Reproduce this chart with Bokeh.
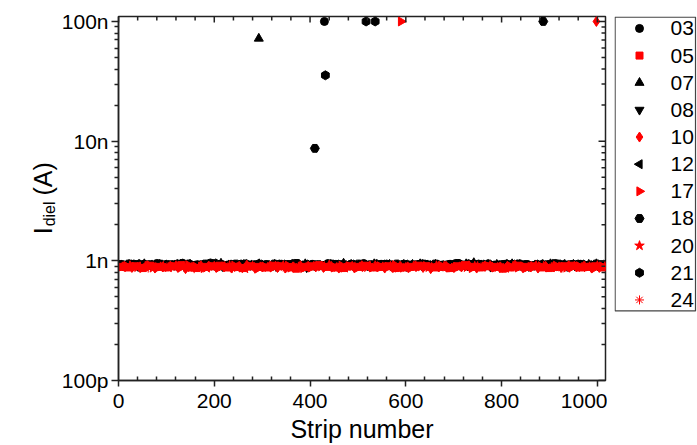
import math
from bokeh.plotting import figure
from bokeh.layouts import row
from bokeh.models import FixedTicker, Label, Range1d
from bokeh.core.properties import value
from bokeh.embed import file_html
from bokeh.resources import INLINE

# ---------------- data ----------------
series_ids = ["03", "05", "07", "08", "10", "12", "17", "18", "20", "21", "24"]
series_color = ["black", "red", "black", "black", "red", "black", "red", "black", "red", "black", "red"]

# band values (units of 0.01 nA), one value every 16 strips, per series
band_03 = [93,92,94,91,93,95,92,93,91,94,92,93,96,92,91,93,94,92,93,91,92,94,93,95,92,91,93,92,94,93,91,92,95,93,92,94,91,93,92,93,94,92,91,93,95,92,93,94,91,92,93,92,94,93,91,92,93,95,92,93,94,91,92,93]
band_05 = [89,88,90,87,91,89,88,90,92,88,87,89,90,91,88,89,87,90,89,88,91,90,88,86,89,90,92,89,88,87,90,89,91,88,89,90,87,88,89,91,90,88,89,87,90,92,89,88,90,89,86,88,91,89,90,88,87,89,90,91,88,89,90,88]
band_07 = [92,93,91,94,92,93,90,92,94,93,91,92,93,95,92,91,93,92,94,91,93,92,90,93,94,92,91,93,92,95,93,92,91,94,92,93,92,91,93,94,92,93,91,92,93,94,96,92,91,93,92,94,93,91,92,93,94,92,91,93,92,93,94,92]
band_08 = [91,92,90,93,91,92,94,91,90,92,93,91,92,90,93,91,92,94,91,92,90,93,91,92,88,91,93,92,91,90,92,93,91,92,94,91,92,90,93,91,92,91,93,90,92,91,93,92,89,91,92,93,91,90,92,93,91,92,90,91,93,92,91,92]
band_10 = [90,88,89,91,87,89,90,88,86,89,91,90,88,89,87,90,92,88,89,90,88,87,89,91,90,89,88,90,87,89,88,91,90,89,87,88,90,89,91,88,86,89,90,88,89,91,87,90,89,88,90,92,88,89,87,90,89,88,91,89,90,87,88,89]
band_12 = [92,91,93,92,90,93,91,92,94,92,91,93,92,90,92,93,91,94,92,91,93,92,91,90,93,92,94,91,92,93,91,92,90,93,92,91,94,92,93,91,92,90,93,92,91,93,92,94,91,92,93,90,92,91,93,92,91,94,92,93,91,92,93,91]
band_17 = [88,90,89,87,91,88,89,90,88,92,89,87,90,88,89,91,88,90,86,89,88,90,91,89,87,88,90,89,88,91,90,87,89,88,90,89,92,88,87,89,90,88,91,89,88,90,87,89,91,88,89,90,88,87,89,90,88,91,89,88,90,89,87,90]
band_18 = [93,94,92,93,91,94,93,92,95,93,92,94,91,93,92,94,93,92,91,93,94,92,93,95,92,93,91,94,93,92,93,94,92,91,93,92,94,93,92,93,91,94,92,93,95,92,93,91,94,92,93,92,94,93,91,92,93,94,92,93,92,91,94,93]
band_20 = [89,91,88,90,87,89,88,91,90,88,89,87,90,89,91,88,86,90,89,88,90,91,87,89,88,90,89,92,88,87,90,89,88,91,89,90,87,88,90,89,88,91,90,87,89,88,90,89,91,88,87,90,89,88,91,90,88,89,87,90,88,89,91,90]
band_21 = [92,93,94,92,91,93,92,94,93,91,92,93,95,92,93,91,94,92,93,92,91,93,94,92,93,92,91,94,93,92,93,91,92,94,93,92,91,93,92,94,92,93,91,92,93,94,92,93,91,92,94,93,92,91,93,92,94,93,92,91,93,92,93,94]
band_24 = [88,89,90,87,89,91,88,90,89,86,88,90,89,91,87,89,90,88,89,91,88,87,90,89,88,90,91,89,87,88,90,89,91,88,89,87,90,88,89,91,90,88,87,89,90,88,91,89,88,90,87,89,88,91,90,89,88,87,90,89,91,88,89,90]
band_first_strip = [0, 3, 6, 9, 12, 15, 2, 5, 8, 11, 14]

# outlier strips: (series, strip, current in nA)
outlier_series = ["03", "21", "21", "07", "21", "18", "17", "18", "10"]
outlier_strip = [430, 517, 536, 293, 432, 410, 590, 887, 998]
outlier_nA = [100.0, 100.0, 100.0, 72.0, 35.5, 8.7, 100.0, 100.0, 100.0]

x_ticks = [0, 200, 400, 600, 800, 1000]
y_ticks = [1e-10, 1e-9, 1e-8, 1e-7]
y_tick_labels = ["100p", "1n", "10n", "100n"]

bands = [band_03, band_05, band_07, band_08, band_10, band_12,
         band_17, band_18, band_20, band_21, band_24]

FONT = "Liberation Sans"
AX_COL = "#222222"
H = 445
FRAME_H = 366          # frames of all panels in the row share this height
LABEL_W = 58
LEGEND_W = 90
LEGEND_GAP = 7
MAIN_W = 697 - LABEL_W - LEGEND_W

marker_style = {
    "03": dict(marker="circle", size=8, angle=0.0),
    "05": dict(marker="square", size=7, angle=0.0),
    "07": dict(marker="triangle", size=9, angle=0.0),
    "08": dict(marker="inverted_triangle", size=9, angle=0.0),
    "10": dict(marker="diamond", size=10, angle=0.0),
    "12": dict(marker="triangle", size=9, angle=math.pi / 2),
    "17": dict(marker="triangle", size=9, angle=-math.pi / 2),
    "18": dict(marker="hex", size=9, angle=0.0),
    "20": dict(marker="star", size=10, angle=0.0),
    "21": dict(marker="hex", size=9, angle=math.pi / 6),
    "24": dict(marker="asterisk", size=9, angle=0.0),
}


def series_points(i):
    sid = series_ids[i]
    vals = bands[i]
    xs = [band_first_strip[i] + 16 * k for k in range(len(vals))]
    ys = [v * 1e-11 for v in vals]
    for s, xo, yo in zip(outlier_series, outlier_strip, outlier_nA):
        if s == sid:
            xs.append(xo)
            ys.append(yo * 1e-9)
    return xs, ys


def bare_figure(width, left_border=0):
    f = figure(width=width, height=H, title=None,
               x_range=Range1d(0, width - left_border),
               y_range=Range1d(0, FRAME_H),
               x_axis_location=None, y_axis_location=None,
               output_backend="svg", toolbar_location=None,
               min_border_left=left_border, min_border_right=0,
               min_border_top=16, min_border_bottom=H - 16 - FRAME_H)
    f.grid.visible = False
    f.outline_line_color = None
    f.background_fill_color = "white"
    f.border_fill_color = "white"
    return f


# ---------------- main plot ----------------
X0, X1 = 0, 1017
Y0, Y1 = 1e-10, 1.1e-7
p = figure(width=MAIN_W, height=H, x_range=Range1d(X0, X1),
           y_range=Range1d(Y0, Y1), y_axis_type="log",
           output_backend="svg", toolbar_location=None,
           min_border_left=116 - LABEL_W, min_border_right=2,
           min_border_top=16, min_border_bottom=H - 16 - FRAME_H)
p.grid.visible = False
p.outline_line_color = AX_COL
p.outline_line_width = 1.5
p.background_fill_color = "white"

# draw the black series first, red ones on top
order = [i for i, c in enumerate(series_color) if c == "black"] + \
        [i for i, c in enumerate(series_color) if c == "red"]
for i in order:
    sid = series_ids[i]
    xs, ys = series_points(i)
    st = marker_style[sid]
    col = series_color[i]
    p.scatter(xs, ys, marker=st["marker"], size=st["size"], angle=st["angle"],
              fill_color=col, line_color=col, line_width=1)

minor_x = [v for v in range(0, 1017, 40) if v % 200 != 0]
minor_y = [k * 10.0 ** e for e in range(-10, -7) for k in range(2, 10)]

xa = p.xaxis[0]
ya = p.yaxis[0]
xa.ticker = FixedTicker(ticks=x_ticks, minor_ticks=minor_x)
xa.axis_label = "Strip number"
ya.ticker = FixedTicker(ticks=y_ticks, minor_ticks=minor_y)
ya.major_label_overrides = {t: l for t, l in zip(y_ticks, y_tick_labels)}

for ax in (xa, ya):
    ax.axis_line_color = AX_COL
    ax.axis_line_width = 1.5
    ax.major_tick_line_color = AX_COL
    ax.minor_tick_line_color = AX_COL
    ax.major_tick_line_width = 1.5
    ax.minor_tick_line_width = 1.5
    ax.major_tick_in = 0
    ax.major_label_text_font = FONT
    ax.major_label_text_font_size = "21px"
    ax.major_label_text_color = "black"
    ax.axis_label_text_font = FONT
    ax.axis_label_text_font_size = "25px"
    ax.axis_label_text_font_style = "normal"
    ax.axis_label_text_color = "black"
xa.major_tick_out = 6
xa.minor_tick_out = 0
xa.minor_tick_in = 4
xa.major_label_standoff = 7
xa.axis_label_standoff = 4
ya.major_tick_out = 7
ya.minor_tick_out = 4
ya.minor_tick_in = 0
ya.major_label_standoff = 3

# mirrored inward ticks on the top and right frame edges
px_per_decade = FRAME_H / math.log10(Y1 / Y0)
px_per_unit = 489 / (X1 - X0)
top_major_y = Y1 / 10 ** (6 / px_per_decade)
top_minor_y = Y1 / 10 ** (4 / px_per_decade)
p.segment(x0=x_ticks, y0=[Y1] * len(x_ticks), x1=x_ticks, y1=[top_major_y] * len(x_ticks),
          line_color=AX_COL, line_width=1.5)
p.segment(x0=minor_x, y0=[Y1] * len(minor_x), x1=minor_x, y1=[top_minor_y] * len(minor_x),
          line_color=AX_COL, line_width=1.5)
p.segment(x0=[X1] * len(y_ticks), y0=y_ticks, x1=[X1 - 7 / px_per_unit] * len(y_ticks), y1=y_ticks,
          line_color=AX_COL, line_width=1.5)
p.segment(x0=[X1] * len(minor_y), y0=minor_y, x1=[X1 - 4 / px_per_unit] * len(minor_y), y1=minor_y,
          line_color=AX_COL, line_width=1.5)

# ---------------- y label panel: I_diel (A) ----------------
# panel coordinates: x = pixels from the left edge, y = pixels above the frame bottom
pl = bare_figure(LABEL_W)
common = dict(angle=math.pi / 2, text_color="black", text_align="left",
              text_baseline="alphabetic")
pl.add_layout(Label(x=42, y=147, text="I", text_font=FONT,
                    text_font_size="25px", **common))
pl.add_layout(Label(x=49, y=155, text="diel", text_font=FONT,
                    text_font_size="16px", **common))
pl.add_layout(Label(x=42, y=186, text="(A)", text_font=FONT,
                    text_font_size="25px", **common))

# ---------------- legend panel ----------------
pg = bare_figure(LEGEND_W, left_border=LEGEND_GAP)
n_items = len(series_ids)
item_pitch = 27.3
item_top = FRAME_H - 12
leg_y = [item_top - item_pitch * k for k in range(n_items)]
pg.quad(left=[0.6], right=[81], top=[FRAME_H - 0.6], bottom=[item_top - item_pitch * (n_items - 1) - 11],
        fill_color="white", line_color="#444444", line_width=1.2)
for k, sid in enumerate(series_ids):
    st = marker_style[sid]
    col = series_color[k]
    pg.scatter([25], [leg_y[k]], marker=st["marker"], size=st["size"], angle=st["angle"],
               fill_color=col, line_color=col, line_width=1)
pg.text(x=[56] * n_items, y=leg_y, text=series_ids, text_font=value(FONT),
        text_font_size="21px", text_color="black", text_align="left",
        text_baseline="middle")

layout = row(pl, p, pg)
open("out.html", "w").write(file_html(layout, INLINE))
